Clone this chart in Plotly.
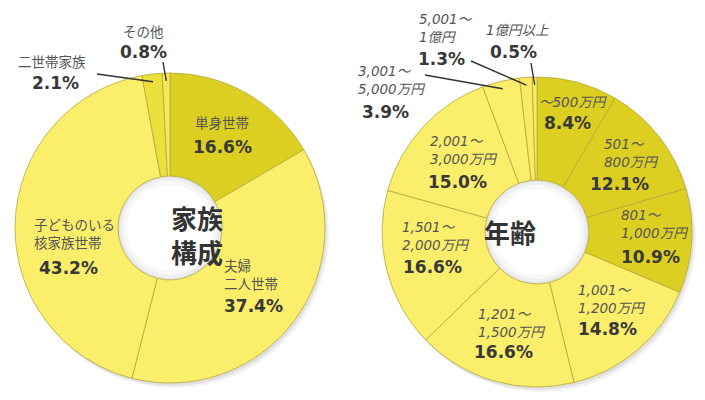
import math
import plotly.graph_objects as go

# 家族構成
family_labels = ["単身世帯", "夫婦<br>二人世帯", "子どものいる<br>核家族世帯", "二世帯家族", "その他"]
family_values = [16.6, 37.4, 43.2, 2.1, 0.8]
family_colors = ["#dccf22", "#fbee6b", "#fbee6b", "#ece03c", "#f5e85a"]

# 年収
income_labels = ["～500万円", "501～<br>800万円", "801～<br>1,000万円", "1,001～<br>1,200万円",
                 "1,201～<br>1,500万円", "1,501～<br>2,000万円", "2,001～<br>3,000万円",
                 "3,001～<br>5,000万円", "5,001～<br>1億円", "1億円以上"]
income_values = [8.4, 12.1, 10.9, 14.8, 16.6, 16.6, 15.0, 3.9, 1.3, 0.5]
income_colors = ["#dccf22", "#dccf22", "#dccf22", "#fbee6b", "#fbee6b", "#fbee6b",
                 "#fbee6b", "#fbee6b", "#f8eb62", "#f8eb62"]

W, H = 705, 400
R = 155
HOLE = 0.335
LEFT_C = (170, 228)
RIGHT_C = (537, 232)

# label layout: (name x, name y, name anchor, pct x, pct y, pct anchor)
family_pos = [
    (222, 123, "center", 222, 147, "center"),
    (222, 275, "left", 222, 306, "left"),
    (32, 234, "left", 37, 268, "left"),
    (52, 62, "center", 55, 83, "center"),
    (143, 32, "center", 143, 52, "center"),
]
income_pos = [
    (573, 102, "center", 567, 123, "center"),
    (602, 153, "left", 619, 184, "center"),
    (619, 224, "left", 650, 257, "center"),
    (576, 299, "left", 607, 329, "center"),
    (476, 323, "left", 503, 352, "center"),
    (400, 236, "left", 432, 267, "center"),
    (428, 150, "left", 457, 182, "center"),
    (356, 80, "left", 385, 112, "center"),
    (417, 28, "left", 441, 59, "center"),
    (517, 30, "center", 513, 52, "center"),
]
# leader lines: slice index -> label-side start point
family_leaders = {3: (97, 74), 4: (163, 62)}
income_leaders = {7: (425, 75), 8: (471, 61), 9: (531, 63)}


def px(x):
    return x / W


def py(y):
    return 1 - y / H


def domain(c):
    return dict(x=[px(c[0] - R), px(c[0] + R)], y=[py(c[1] + R), py(c[1] - R)])


def edge_point(values, i, c, frac=0.95):
    total = sum(values)
    mid = (sum(values[:i]) + values[i] / 2) / total * 2 * math.pi
    return c[0] + R * frac * math.sin(mid), c[1] - R * frac * math.cos(mid)


fig = go.Figure()
for vals, labs, cols, c in [(family_values, family_labels, family_colors, LEFT_C),
                            (income_values, income_labels, income_colors, RIGHT_C)]:
    fig.add_trace(go.Pie(
        values=vals, labels=labs, sort=False, direction="clockwise", rotation=0,
        hole=HOLE, domain=domain(c), textinfo="none", hoverinfo="label+percent",
        marker=dict(colors=cols, line=dict(color="#b5a83a", width=0.8)),
        showlegend=False,
    ))

shapes = []
annotations = []
for c in [LEFT_C, RIGHT_C]:
    # soft shadow behind the ring
    for off, a in [(4, 0.05), (2, 0.07)]:
        shapes.append(dict(type="circle", xref="paper", yref="paper", layer="below",
                           x0=px(c[0] - R + off), x1=px(c[0] + R + off),
                           y0=py(c[1] + R + off + 1), y1=py(c[1] - R + off + 1),
                           fillcolor=f"rgba(0,0,0,{a})", line=dict(width=0)))
    # hole shading
    hr = R * HOLE
    for d, col in [(0, "#e4e4e4"), (2, "#efefef"), (5, "#f8f8f8"), (9, "#ffffff")]:
        shapes.append(dict(type="circle", xref="paper", yref="paper", layer="below",
                           x0=px(c[0] - hr + d), x1=px(c[0] + hr - d),
                           y0=py(c[1] + hr - d), y1=py(c[1] - hr + d),
                           fillcolor=col, line=dict(width=0)))

name_font = dict(family="DejaVu Sans, Noto Sans CJK JP", size=13.5, color="#555555")
pct_font = dict(family="DejaVu Sans", size=17, color="#383838")

for labs, vals, pos, leaders, c, ital in [
        (family_labels, family_values, family_pos, family_leaders, LEFT_C, False),
        (income_labels, income_values, income_pos, income_leaders, RIGHT_C, True)]:
    for i, (lab, v) in enumerate(zip(labs, vals)):
        nx, ny, na, qx, qy, qa = pos[i]
        text = f"<i>{lab}</i>" if ital else lab
        annotations.append(dict(x=px(nx), y=py(ny), xref="paper", yref="paper",
                                text=text, showarrow=False, xanchor=na, yanchor="middle",
                                align="left", font=name_font))
        annotations.append(dict(x=px(qx), y=py(qy), xref="paper", yref="paper",
                                text=f"<b>{v:.1f}%</b>", showarrow=False, xanchor=qa,
                                yanchor="middle", font=pct_font))
        if i in leaders:
            sx, sy = leaders[i]
            ex, ey = edge_point(vals, i, c)
            shapes.append(dict(type="line", xref="paper", yref="paper",
                               x0=px(sx), y0=py(sy), x1=px(ex), y1=py(ey),
                               line=dict(color="#333333", width=1.4)))

center_font = dict(family="Noto Sans CJK JP", size=26, color="#333333")
annotations.append(dict(x=px(169), y=py(234), xref="paper", yref="paper",
                        text="<b>家族<br>構成</b>", showarrow=False, font=center_font))
annotations.append(dict(x=px(538), y=py(232), xref="paper", yref="paper",
                        text="<b>年齢</b>", showarrow=False, font=center_font))

fig.update_layout(width=W, height=H, margin=dict(l=0, r=0, t=0, b=0),
                  paper_bgcolor="white", plot_bgcolor="white",
                  shapes=shapes, annotations=annotations)
fig.write_html("out.html", config={"displayModeBar": False},
               post_script="document.body.style.margin='0px';")
